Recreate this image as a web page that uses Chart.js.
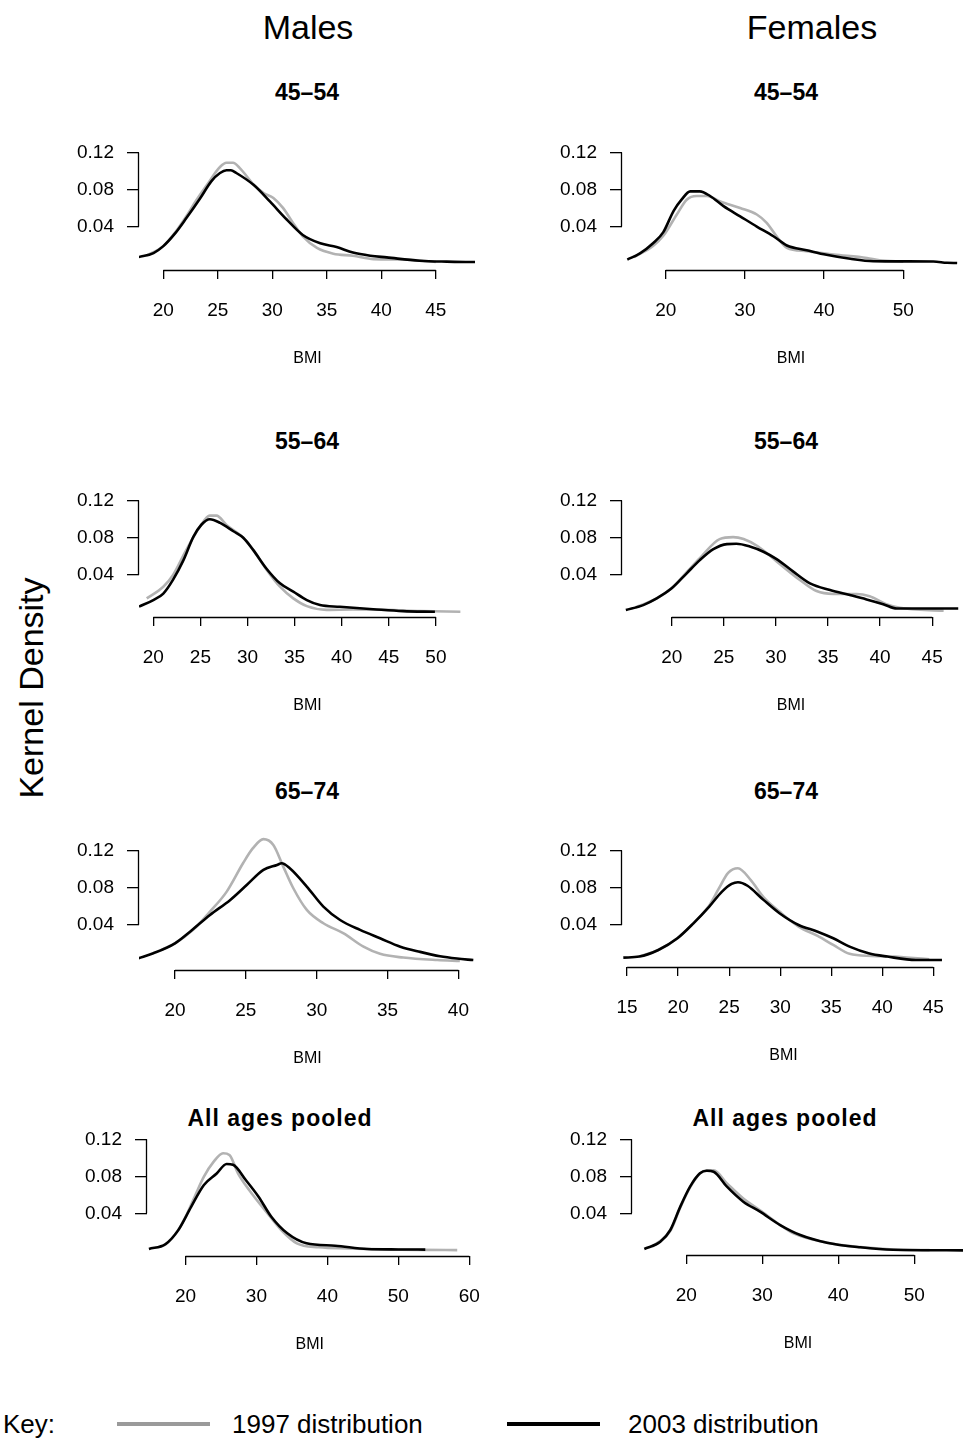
<!DOCTYPE html>
<html><head><meta charset="utf-8">
<script src="https://cdn.jsdelivr.net/npm/chart.js@4.4.1/dist/chart.umd.min.js"></script>
<style>
body{margin:0;background:#fff;}
#page{position:relative;width:964px;height:1441px;overflow:hidden;font-family:"Liberation Sans",Arial,sans-serif;color:#000;background:#fff;}
.t{position:absolute;transform:translate(-50%,-50%);white-space:nowrap;line-height:1;}
.h{font-size:34px;}
.p{font-size:23px;font-weight:bold;}
.pool{font-size:23px;font-weight:bold;letter-spacing:1px;}
.key{position:absolute;font-size:26px;line-height:1;transform:translateY(-50%);white-space:nowrap;}
.sw{position:absolute;height:4px;transform:translateY(-50%);}
canvas{position:absolute;}
</style></head><body><div id="page">
<div class="t h" style="left:308px;top:27px">Males</div>
<div class="t h" style="left:812px;top:27px">Females</div>
<div class="t p" style="left:307px;top:92px">45–54</div>
<div class="t p" style="left:786px;top:92px">45–54</div>
<div class="t p" style="left:307px;top:441px">55–64</div>
<div class="t p" style="left:786px;top:441px">55–64</div>
<div class="t p" style="left:307px;top:791px">65–74</div>
<div class="t p" style="left:786px;top:791px">65–74</div>
<div class="t pool" style="left:280px;top:1118px">All ages pooled</div>
<div class="t pool" style="left:785px;top:1118px">All ages pooled</div>
<div class="t" style="left:31px;top:688px;font-size:34px;transform:translate(-50%,-50%) rotate(-90deg)">Kernel Density</div>
<div class="key" style="left:3px;top:1424px">Key:</div>
<div class="sw" style="left:117px;top:1424px;width:93px;background:#9a9a9a"></div>
<div class="key" style="left:232px;top:1424px">1997 distribution</div>
<div class="sw" style="left:507px;top:1424px;width:93px;background:#000"></div>
<div class="key" style="left:628px;top:1424px">2003 distribution</div>
</div>
<script>
// ---- tick labels ----
const yTicks = [0.04, 0.08, 0.12];
const m4554Ticks = [20, 25, 30, 35, 40, 45];
const f4554Ticks = [20, 30, 40, 50];
const m5564Ticks = [20, 25, 30, 35, 40, 45, 50];
const f5564Ticks = [20, 25, 30, 35, 40, 45];
const m6574Ticks = [20, 25, 30, 35, 40];
const f6574Ticks = [15, 20, 25, 30, 35, 40, 45];
const mAllTicks = [20, 30, 40, 50, 60];
const fAllTicks = [20, 30, 40, 50];

// ---- Males 45-54 ----
const m4554_bmi03 = [17.7, 19.1, 20.0, 21.1, 22.1, 23.4, 24.4, 25.2, 25.8, 26.2, 26.7, 28.3, 29.8, 31.3, 32.8, 34.4, 35.9, 37.4, 39.0, 40.5, 43.5, 46.0, 48.6];
const m4554_d03 = [0.007, 0.0115, 0.019, 0.033, 0.049, 0.071, 0.089, 0.098, 0.101, 0.101, 0.098, 0.085, 0.067, 0.048, 0.031, 0.022, 0.018, 0.012, 0.0086, 0.0068, 0.0032, 0.0022, 0.0018];
const m4554_bmi97 = [18.5, 20.0, 21.1, 22.1, 23.0, 24.0, 25.2, 25.8, 26.4, 27.0, 28.3, 29.2, 30.1, 31.0, 31.9, 32.8, 34.1, 35.6, 37.4, 39.3, 42.0, 45.0];
const m4554_d97 = [0.009, 0.019, 0.034, 0.051, 0.068, 0.085, 0.1045, 0.109, 0.109, 0.1035, 0.0854, 0.0764, 0.071, 0.060, 0.044, 0.0295, 0.017, 0.0108, 0.0086, 0.005, 0.0045, 0.002];

// ---- Females 45-54 ----
const f4554_bmi03 = [15.15, 16.75, 18.4, 19.7, 21.0, 22.0, 23.1, 24.3, 25.6, 27.3, 29.4, 31.5, 33.6, 35.3, 37.8, 40.3, 43.3, 46.2, 50.0, 53.8, 55.5, 56.8];
const f4554_d03 = [0.0043, 0.011, 0.022, 0.034, 0.057, 0.069, 0.078, 0.078, 0.073, 0.062, 0.051, 0.040, 0.0295, 0.0195, 0.0144, 0.0094, 0.0051, 0.0025, 0.0023, 0.0022, 0.0008, 0.0005];
const f4554_bmi97 = [16.0, 18.4, 19.7, 21.4, 22.65, 23.9, 25.2, 26.9, 29.4, 31.5, 32.75, 34.0, 35.3, 37.8, 41.2, 45.4, 47.0, 50.0];
const f4554_d97 = [0.007, 0.019, 0.030, 0.053, 0.069, 0.073, 0.073, 0.067, 0.060, 0.053, 0.044, 0.0295, 0.017, 0.0133, 0.0097, 0.006, 0.0036, 0.002];

// ---- Males 55-64 ----
const m5564_bmi03 = [18.48, 20.0, 21.06, 22.1, 23.2, 24.25, 25.1, 26.0, 27.1, 28.5, 29.55, 30.6, 32.0, 33.45, 34.86, 36.3, 37.7, 39.8, 43.35, 46.5, 49.9];
const m5564_d03 = [0.006, 0.013, 0.020, 0.035, 0.056, 0.081, 0.094, 0.100, 0.096, 0.087, 0.080, 0.067, 0.047, 0.031, 0.022, 0.013, 0.0076, 0.0058, 0.0032, 0.0011, 0.0004];
const m5564_bmi97 = [19.3, 21.06, 22.1, 23.5, 24.96, 26.0, 26.7, 27.8, 29.55, 30.6, 32.0, 33.45, 34.86, 36.3, 38.4, 41.2, 44.7, 48.3, 52.6];
const m5564_d97 = [0.0148, 0.0274, 0.040, 0.067, 0.092, 0.1038, 0.1038, 0.0935, 0.080, 0.067, 0.046, 0.0274, 0.0148, 0.0065, 0.0025, 0.0028, 0.0025, 0.0013, 0.0004];

// ---- Females 55-64 ----
const f5564_bmi03 = [15.6, 17.27, 18.56, 20.0, 21.44, 22.7, 24.0, 25.3, 26.2, 27.5, 28.8, 30.07, 31.67, 33.27, 35.2, 37.1, 38.7, 40.3, 41.6, 43.5, 47.5];
const f5564_d03 = [0.0022, 0.0076, 0.0148, 0.0256, 0.0418, 0.056, 0.0678, 0.0732, 0.0735, 0.0706, 0.065, 0.057, 0.0436, 0.031, 0.0238, 0.0184, 0.0137, 0.0086, 0.004, 0.004, 0.004];
const f5564_bmi97 = [16.5, 18.56, 20.0, 21.44, 22.7, 24.6, 25.9, 26.9, 28.3, 30.07, 32.3, 33.9, 35.5, 37.75, 39.0, 40.6, 41.9, 46.1];
const f5564_d97 = [0.005, 0.0148, 0.026, 0.043, 0.058, 0.0786, 0.0807, 0.0786, 0.0706, 0.0546, 0.0346, 0.0227, 0.0196, 0.0196, 0.017, 0.0086, 0.0047, 0.0015];

// ---- Males 65-74 ----
const m6574_bmi03 = [17.41, 18.47, 20.0, 21.06, 22.47, 23.9, 25.06, 26.24, 27.2, 27.53, 28.1, 29.3, 30.47, 31.65, 33.06, 34.47, 35.9, 37.3, 38.7, 39.9, 41.05];
const m6574_d03 = [0.0042, 0.0096, 0.0203, 0.0328, 0.0508, 0.067, 0.083, 0.0992, 0.1046, 0.1064, 0.101, 0.0813, 0.0598, 0.0454, 0.0347, 0.0257, 0.0167, 0.0111, 0.0064, 0.0039, 0.0023];
const m6574_bmi97 = [19.0, 20.0, 21.3, 22.47, 23.65, 24.8, 25.5, 26.24, 26.94, 27.64, 28.35, 29.3, 30.47, 31.9, 33.3, 34.47, 36.1, 38.5, 40.1];
const m6574_d97 = [0.013, 0.0203, 0.035, 0.0544, 0.0759, 0.1064, 0.1226, 0.1323, 0.126, 0.1028, 0.0795, 0.0562, 0.0419, 0.031, 0.0167, 0.009, 0.005, 0.0023, 0.0013];

// ---- Females 65-74 ----
const f6574_bmi03 = [14.63, 16.19, 18.06, 19.93, 21.5, 23.05, 24.3, 25.24, 25.86, 26.8, 28.36, 29.93, 31.8, 33.67, 35.2, 36.8, 38.65, 40.5, 43.3, 45.85];
const f6574_d03 = [0.0049, 0.006, 0.0131, 0.0257, 0.0418, 0.0598, 0.0759, 0.0842, 0.086, 0.0822, 0.067, 0.0526, 0.040, 0.0328, 0.0257, 0.0167, 0.0096, 0.006, 0.0023, 0.0023];
const f6574_bmi97 = [16.19, 18.06, 19.93, 21.5, 23.05, 23.98, 24.9, 25.86, 27.1, 28.36, 29.93, 31.8, 33.67, 35.2, 36.8, 38.97, 41.15, 44.6];
const f6574_d97 = [0.006, 0.0131, 0.0257, 0.042, 0.061, 0.079, 0.096, 0.101, 0.0885, 0.070, 0.0544, 0.0382, 0.0282, 0.0185, 0.009, 0.0067, 0.006, 0.0031];

// ---- Males, all ages pooled ----
const mAll_bmi03 = [14.85, 17.2, 19.0, 20.8, 22.6, 24.4, 25.8, 26.7, 28.5, 30.3, 32.1, 34.35, 37.06, 41.1, 45.6, 50.0, 53.8];
const mAll_d03 = [0.0015, 0.0068, 0.022, 0.047, 0.0706, 0.083, 0.0933, 0.0925, 0.076, 0.058, 0.0363, 0.0184, 0.0076, 0.005, 0.0015, 0.001, 0.0008];
const mAll_bmi97 = [19.0, 20.0, 21.3, 22.6, 23.98, 25.3, 26.2, 27.4, 29.0, 31.2, 33.5, 35.7, 38.8, 43.0, 47.9, 53.0, 58.3];
const mAll_d97 = [0.022, 0.036, 0.058, 0.0796, 0.0958, 0.1049, 0.103, 0.0833, 0.065, 0.0435, 0.022, 0.0076, 0.0033, 0.002, 0.0011, 0.0005, 0.0003];

// ---- Females, all ages pooled ----
const fAll_bmi03 = [14.48, 16.58, 17.9, 19.2, 20.5, 21.8, 22.7, 23.6, 25.35, 27.5, 29.7, 32.35, 35.0, 38.5, 42.9, 47.2, 56.4];
const fAll_d03 = [0.0015, 0.0093, 0.022, 0.047, 0.0688, 0.0832, 0.086, 0.085, 0.0688, 0.0526, 0.0418, 0.0274, 0.0166, 0.0083, 0.0033, 0.0006, 0.0];
const fAll_bmi97 = [15.5, 17.9, 19.2, 20.5, 21.8, 22.7, 23.6, 25.35, 27.5, 29.7, 32.35, 34.1, 38.5, 42.9, 47.2, 52.0];
const fAll_d97 = [0.004, 0.021, 0.046, 0.068, 0.083, 0.0865, 0.0865, 0.0724, 0.056, 0.0433, 0.0274, 0.0184, 0.0083, 0.0035, 0.001, 0.0003];

// ---- panel layout (plot-region pixels and axis ranges) ----
const panels = [
  {bx: m4554_bmi03, by: m4554_d03, gx: m4554_bmi97, gy: m4554_d97, ticks: m4554Ticks, L:139, R:476, T:148, B:270, xr:[17.77, 48.69], yr:[-0.0068, 0.125], pr:14},
  {bx: f4554_bmi03, by: f4554_d03, gx: f4554_bmi97, gy: f4554_d97, ticks: f4554Ticks, L:622, R:960, T:148, B:270, xr:[14.48, 57.16], yr:[-0.007, 0.1249], pr:4},
  {bx: m5564_bmi03, by: m5564_d03, gx: m5564_bmi97, gy: m5564_d97, ticks: m5564Ticks, L:139, R:476, T:495, B:617, xr:[18.48, 54.26], yr:[-0.0052, 0.126], pr:14},
  {bx: f5564_bmi03, by: f5564_d03, gx: f5564_bmi97, gy: f5564_d97, ticks: f5564Ticks, L:622, R:960, T:495, B:617, xr:[15.23, 47.67], yr:[-0.0052, 0.126], pr:4},
  {bx: m6574_bmi03, by: m6574_d03, gx: m6574_bmi97, gy: m6574_d97, ticks: m6574Ticks, L:139, R:476, T:832, B:970, xr:[17.46, 41.24], yr:[-0.0084, 0.140], pr:14},
  {bx: f6574_bmi03, by: f6574_d03, gx: f6574_bmi97, gy: f6574_d97, ticks: f6574Ticks, L:622, R:960, T:832, B:967, xr:[14.50, 46.15], yr:[-0.0052, 0.140], pr:4},
  {bx: mAll_bmi03, by: mAll_d03, gx: mAll_bmi97, gy: mAll_d97, ticks: mAllTicks, L:147, R:486, T:1128, B:1256, xr:[14.58, 60.45], yr:[-0.0061, 0.1322], pr:14},
  {bx: fAll_bmi03, by: fAll_d03, gx: fAll_bmi97, gy: fAll_d97, ticks: fAllTicks, L:632, R:964, T:1128, B:1255, xr:[12.86, 56.53], yr:[-0.005, 0.1322], pr:0}
];

const FONT = '"Liberation Sans", Arial, sans-serif';

// R-style axis lines that only span the first to last tick
const rAxes = {
  id: 'rAxes',
  afterDraw(chart) {
    const {ctx, chartArea, scales} = chart;
    const x = scales.x, y = scales.y;
    const xt = x.ticks, yt = y.ticks;
    ctx.save();
    ctx.strokeStyle = '#000';
    ctx.lineWidth = 1.3;
    ctx.beginPath();
    const by = Math.round(chartArea.bottom) + 0.5;
    ctx.moveTo(x.getPixelForValue(xt[0].value), by);
    ctx.lineTo(x.getPixelForValue(xt[xt.length - 1].value), by);
    const lx = Math.round(chartArea.left) - 0.5;
    ctx.moveTo(lx, y.getPixelForValue(yt[0].value));
    ctx.lineTo(lx, y.getPixelForValue(yt[yt.length - 1].value));
    ctx.stroke();
    ctx.restore();
  }
};

const YW = 85, XH = 98, PT = 28;
const page = document.getElementById('page');

function pts(xs, ys) { return xs.map((v, i) => ({x: v, y: ys[i]})); }

panels.forEach(p => {
  const cv = document.createElement('canvas');
  const w = (p.R - p.L) + YW + p.pr;
  const h = (p.B - p.T) + PT + XH;
  cv.width = w; cv.height = h;
  cv.style.left = (p.L - YW) + 'px';
  cv.style.top = (p.T - PT) + 'px';
  cv.style.width = w + 'px';
  cv.style.height = h + 'px';
  page.appendChild(cv);
  new Chart(cv, {
    type: 'line',
    data: {
      datasets: [
        {label: '2003 distribution', data: pts(p.bx, p.by), borderColor: '#000', borderWidth: 2.6,
         pointRadius: 0, tension: 0.4, cubicInterpolationMode: 'monotone', fill: false, order: 0},
        {label: '1997 distribution', data: pts(p.gx, p.gy), borderColor: '#b2b2b2', borderWidth: 2.6,
         pointRadius: 0, tension: 0.4, cubicInterpolationMode: 'monotone', fill: false, order: 1}
      ]
    },
    options: {
      responsive: false, animation: false, devicePixelRatio: 1,
      layout: {padding: {top: PT, right: p.pr, left: 0, bottom: 0}},
      plugins: {legend: {display: false}, tooltip: {enabled: false}, title: {display: false}},
      scales: {
        x: {
          type: 'linear', bounds: 'data', min: p.xr[0], max: p.xr[1],
          afterBuildTicks: s => { s.ticks = p.ticks.map(v => ({value: v})); },
          afterFit: s => { s.height = XH; },
          grid: {drawOnChartArea: false, drawTicks: true, tickLength: 9, color: '#000', lineWidth: 1.3},
          border: {display: false},
          ticks: {autoSkip: false, maxRotation: 0, minRotation: 0, padding: 20, color: '#000',
                  font: {family: FONT, size: 19}, callback: v => String(v)},
          title: {display: true, text: 'BMI', color: '#000', font: {family: FONT, size: 16}, padding: {top: 0, bottom: 0}}
        },
        y: {
          type: 'linear', bounds: 'data', min: p.yr[0], max: p.yr[1],
          afterBuildTicks: s => { s.ticks = yTicks.map(v => ({value: v})); },
          afterFit: s => { s.width = YW; },
          grid: {drawOnChartArea: false, drawTicks: true, tickLength: 12, color: '#000', lineWidth: 1.3},
          border: {display: false},
          ticks: {autoSkip: false, padding: 13, color: '#000', font: {family: FONT, size: 19},
                  callback: v => Number(v).toFixed(2)}
        }
      }
    },
    plugins: [rAxes]
  });
});
</script>
</body></html>
